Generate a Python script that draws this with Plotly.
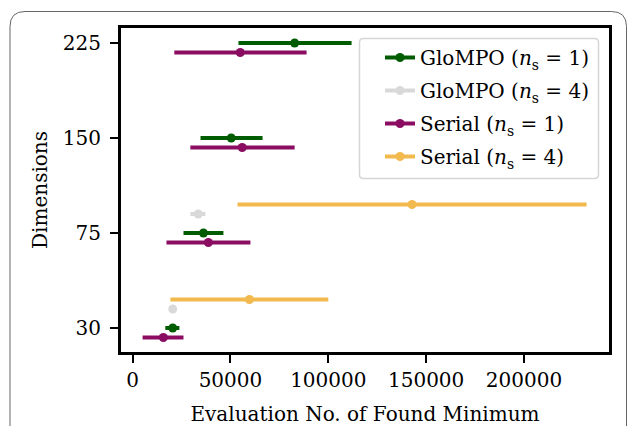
import plotly.graph_objects as go

# ---- data ----
dims = ["30", "75", "150", "225"]

glompo1_dims = ["30", "75", "150", "225"]
glompo1_mid = [20500, 36200, 50400, 82800]
glompo1_low = [16700, 26000, 34700, 54100]
glompo1_high = [23900, 46400, 66400, 111900]

glompo4_dims = ["30", "75"]
glompo4_mid = [20500, 33500]
glompo4_low = [20500, 29500]
glompo4_high = [20500, 37200]

serial1_dims = ["30", "75", "150", "225"]
serial1_mid = [15700, 38700, 56000, 55000]
serial1_low = [5100, 17300, 29500, 21300]
serial1_high = [26000, 60200, 82800, 88900]

serial4_dims = ["30", "75"]
serial4_mid = [59700, 142800]
serial4_low = [19300, 53600]
serial4_high = [100000, 232000]

x_ticks = [0, 50000, 100000, 150000, 200000]

# ---- styling ----
FONT = "DejaVu Serif, Liberation Serif, Noto Serif, serif"
W, H = 629, 426
L, R, T, B = 121, 20, 28, 74
PW, PH = W - L - R, H - T - B

series = [
    ("GloMPO (<i>n</i><sub>s</sub> = 1)", glompo1_dims, glompo1_mid, glompo1_low, glompo1_high, "#005c00", 0.0),
    ("GloMPO (<i>n</i><sub>s</sub> = 4)", glompo4_dims, glompo4_mid, glompo4_low, glompo4_high, "#d9d9d9", 0.2),
    ("Serial (<i>n</i><sub>s</sub> = 1)", serial1_dims, serial1_mid, serial1_low, serial1_high, "#8a0d62", -0.1),
    ("Serial (<i>n</i><sub>s</sub> = 4)", serial4_dims, serial4_mid, serial4_low, serial4_high, "#f2b94e", 0.3),
]

fig = go.Figure()
for name, dd, mid, lo, hi, col, off in series:
    ys = [dims.index(d) + off for d in dd]
    fig.add_trace(go.Scatter(
        x=mid, y=ys, mode="markers", showlegend=False,
        marker=dict(color=col, size=9),
        error_x=dict(type="data", symmetric=False,
                     array=[h - m for h, m in zip(hi, mid)],
                     arrayminus=[m - l for m, l in zip(mid, lo)],
                     color=col, thickness=4, width=0),
    ))
for i, (name, dd, mid, lo, hi, col, off) in enumerate(series):
    fig.add_trace(go.Scatter(
        x=[None], y=[None], mode="lines+markers", name=name,
        legendgroup=f"g{i}",
        line=dict(color=col, width=4), marker=dict(color=col, size=9),
    ))

def px_x(p):
    return (p - L) / PW

def px_y(p):
    return 1 - (p - T) / PH

# outer rounded frame
x0, x1 = px_x(10), px_x(626.5)
yt, yb = px_y(11.5), px_y(460)
rx, ry = 15 / PW, 15 / PH
frame = (f"M {x0},{yb} L {x0},{yt - ry} Q {x0},{yt} {x0 + rx},{yt} "
         f"L {x1 - rx},{yt} Q {x1},{yt} {x1},{yt - ry} L {x1},{yb}")
fig.add_shape(type="path", path=frame, xref="paper", yref="paper",
              line=dict(color="#666666", width=1), layer="below")

# legend rounded box
lx0, lx1 = px_x(359.5), px_x(598.5)
ly0, ly1 = px_y(38.5), px_y(178.5)
lr_x, lr_y = 4 / PW, 4 / PH
lbox = (f"M {lx0 + lr_x},{ly0} L {lx1 - lr_x},{ly0} Q {lx1},{ly0} {lx1},{ly0 - lr_y} "
        f"L {lx1},{ly1 + lr_y} Q {lx1},{ly1} {lx1 - lr_x},{ly1} "
        f"L {lx0 + lr_x},{ly1} Q {lx0},{ly1} {lx0},{ly1 + lr_y} "
        f"L {lx0},{ly0 - lr_y} Q {lx0},{ly0} {lx0 + lr_x},{ly0} Z")
fig.add_shape(type="path", path=lbox, xref="paper", yref="paper",
              line=dict(color="#d6d6d6", width=1.5),
              fillcolor="rgba(255,255,255,0.8)", layer="above")

fig.update_layout(
    width=W, height=H,
    margin=dict(l=L, r=R, t=T, b=B, autoexpand=False),
    paper_bgcolor="white", plot_bgcolor="white",
    font=dict(family=FONT, size=20, color="black"),
    showlegend=True,
    legend=dict(x=px_x(380), y=px_y(38), xanchor="left", yanchor="top",
                bgcolor="rgba(0,0,0,0)", borderwidth=0,
                font=dict(family=FONT, size=20, color="black"), itemwidth=30,
                tracegroupgap=4),
    xaxis=dict(range=[-5937, 243450], tickvals=x_ticks,
               ticktext=[str(v) for v in x_ticks],
               tickfont=dict(family=FONT, size=20, color="black"),
               automargin=False,
               showgrid=False, zeroline=False,
               showline=True, linecolor="black", linewidth=3, mirror=True,
               ticks="outside", ticklen=8, tickwidth=2, tickcolor="black",
               title=dict(text="Evaluation No. of Found Minimum", standoff=20,
                          font=dict(family=FONT, size=20, color="black"))),
    yaxis=dict(range=[-0.253, 3.158], tickvals=list(range(len(dims))),
               ticktext=dims,
               tickfont=dict(family=FONT, size=20, color="black"),
               ticklabelstandoff=5, automargin=False,
               showgrid=False, zeroline=False,
               showline=True, linecolor="black", linewidth=3, mirror=True,
               ticks="outside", ticklen=8, tickwidth=2, tickcolor="black",
               title=dict(text="Dimensions", standoff=10,
                          font=dict(family=FONT, size=20, color="black"))),
)

fig.write_html("out.html", config={"displayModeBar": False},
               post_script="document.body.style.margin='0';")
